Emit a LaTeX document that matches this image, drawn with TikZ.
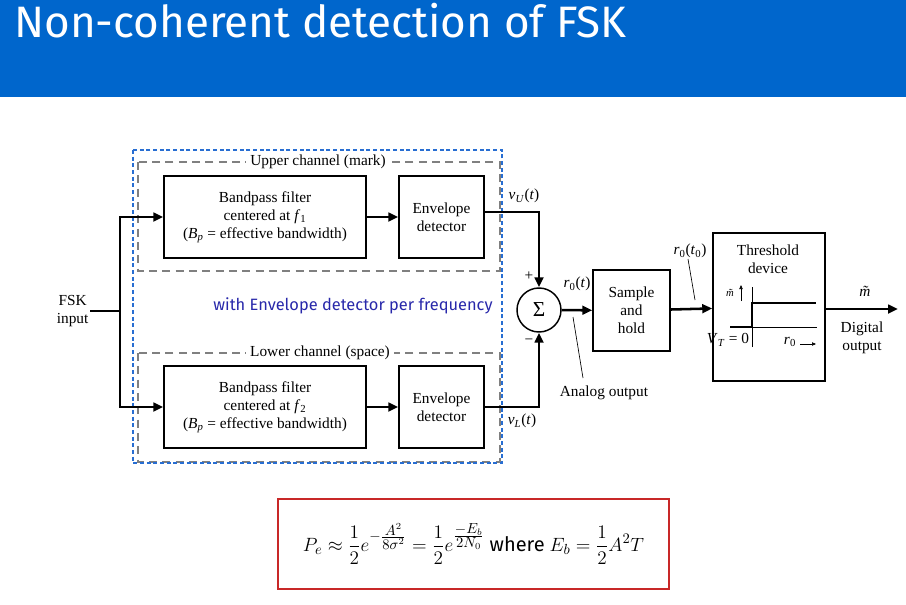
\documentclass[tikz,border=0pt]{standalone}
\usepackage{fontspec}
\setmainfont{Liberation Serif}
\newfontfamily\slidefont{Fira Sans}
\usetikzlibrary{arrows.meta,calc}
\definecolor{titleblue}{RGB}{0,102,204}
\definecolor{noteblue}{RGB}{40,40,170}
\definecolor{boxred}{RGB}{200,40,40}
\definecolor{dashblue}{RGB}{40,110,210}
\tikzset{
  sig/.style={line width=1.9pt},
  arr/.style={sig,-{Triangle[length=7.5pt,width=6.5pt]}},
  thin/.style={line width=0.5pt},
  blk/.style={draw, line width=1.1pt, align=center, inner sep=0pt,
    font=\fontsize{11.5}{13.5}\selectfont},
  lbl/.style={font=\fontsize{11.5}{13.5}\selectfont, align=center, inner sep=1pt},
  chanbox/.style={draw=gray, line width=0.9pt, dash pattern=on 6pt off 4pt},
  outerbox/.style={draw=dashblue, line width=0.9pt, dash pattern=on 3pt off 2pt},
}
\begin{document}
\begin{tikzpicture}[x=0.75pt,y=-0.75pt]
\useasboundingbox (0,0) rectangle (906,604);

% title band
\fill[titleblue] (0,0) rectangle (906,97);
\node[anchor=base west, text=white, inner sep=0pt,
  font=\slidefont\fontsize{33}{38}\selectfont] (title) at (14,37) {Non-coherent detection of FSK};

% channel frames
\draw[chanbox] (138,162) rectangle (500,271);
\draw[chanbox] (138,353) rectangle (500,462);
\node[lbl, fill=white, inner xsep=3pt] (upperlbl) at (318,162) {Upper channel (mark)};
\node[lbl, fill=white, inner xsep=3pt] (lowerlbl) at (320,353) {Lower channel (space)};
\draw[outerbox] (133,150) rectangle (502,463);

% blocks
\node[blk, minimum width=151.5pt, minimum height=61.5pt] (bpf1) at (265,217)
  {Bandpass filter\\centered at \textit{f}\textsubscript{1}\\(\textit{B}\textsubscript{\textit{p}} = effective bandwidth)};
\node[blk, minimum width=63.75pt, minimum height=61.5pt] (env1) at (441.5,217) {Envelope\\detector};
\node[blk, minimum width=151.5pt, minimum height=61.5pt] (bpf2) at (265,407)
  {Bandpass filter\\centered at \textit{f}\textsubscript{2}\\(\textit{B}\textsubscript{\textit{p}} = effective bandwidth)};
\node[blk, minimum width=63.75pt, minimum height=61.5pt] (env2) at (441.5,407) {Envelope\\detector};
\node[draw, circle, line width=1.1pt, minimum size=33pt, inner sep=0pt,
  font=\fontsize{16}{16}\selectfont] (sum) at (539,310) {Σ};
\node[blk, minimum width=57.75pt, minimum height=60.75pt] (sah) at (631.5,310.5) {Sample\\and\\hold};
\node[blk, minimum width=84pt, minimum height=111pt] (thr) at (769,307) {};
\node[lbl] (thrtxt) at (768,259) {Threshold\\device};

% input
\node[lbl, anchor=east] (in) at (90,311) {FSK\\input};
\coordinate (split) at (120,311);
\coordinate (out) at (898,309);
\draw[sig] (in.east) -- (split);
\draw[arr] (split) |- (bpf1.west);
\draw[arr] (split) |- (bpf2.west);
\draw[arr] (bpf1) -- (env1);
\draw[arr] (bpf2) -- (env2);
\draw[arr] ($(env1.east)+(0,-5)$) -| (sum.north);
\draw[arr] (env2.east) -| (sum.south);
\draw[arr] (sum) -- (sah);
\draw[arr] (sah) -- (thr);
\draw[arr] (thr.east |- out) -- (out);

% signal labels
\node[lbl] (vu) at (524,196) {\textit{v}\textsubscript{\textit{U}}(\textit{t})};
\node[lbl] (vl) at (522,421) {\textit{v}\textsubscript{\textit{L}}(\textit{t})};
\node[lbl] (plus) at (529,276) {+};
\node[lbl] (minus) at (529,342) {−};
\node[lbl] (r0t) at (577,284) {\textit{r}\textsubscript{0}(\textit{t})};
\node[lbl] (r0t0) at (690,251) {\textit{r}\textsubscript{0}(\textit{t}\textsubscript{0})};
\node[lbl] (mhat) at (868,291) {\textit{\~m}};
\node[lbl] (digout) at (862,338) {Digital\\output};
\node[lbl] (anaout) at (604,393) {Analog output};
\node[font=\slidefont\fontsize{12.3}{14}\selectfont, text=noteblue, inner sep=1pt] (with) at (353,306)
  {with Envelope detector per frequency};

% leader lines
\coordinate (ana1) at (573,317);
\coordinate (ana2) at (583,378);
\draw[thin] (ana1) -- (ana2);
\coordinate (smp1) at (688,259);
\coordinate (smp2) at (695,300);
\draw[thin] (smp1) -- (smp2);

% threshold characteristic
\coordinate (axl) at (730,327);
\coordinate (axr) at (817,327);
\coordinate (axb) at (752,347);
\coordinate (axt) at (752,287);
\coordinate (stepr) at (816,303);
\draw[thin] (axl) -- (axr);
\draw[thin] (axb) -- (axt);
\draw[line width=1.9pt] (axl) -- (752,327) -- (752,303) -- (stepr);
\node[font=\fontsize{8}{8}\selectfont\itshape, inner sep=0pt] (mt) at (730,293) {\~m};
\coordinate (ma1) at (741,301);
\coordinate (ma2) at (741,285);
\draw[thin, -{Triangle[length=3pt,width=2.5pt]}] (ma1) -- (ma2);
\node[lbl] (vt) at (728,340) {\textit{V}\textsubscript{\textit{T}} = 0};
\node[lbl] (r0) at (790,342) {\textit{r}\textsubscript{0}};
\coordinate (ra1) at (800,344);
\coordinate (ra2) at (816,344);
\draw[thin, -{Triangle[length=3pt,width=2.5pt]}] (ra1) -- (ra2);

% error probability
\node[draw=boxred, line width=1pt, minimum width=293.25pt, minimum height=67.5pt,
  font=\fontsize{15}{17}\selectfont] (pe) at (473.5,544)
  {$\displaystyle P_e \approx \frac{1}{2}e^{-\frac{\scriptstyle A^2}{\scriptstyle 8\sigma^2}}
   = \frac{1}{2}e^{\frac{\scriptstyle -E_b}{\scriptstyle 2N_0}}$ {\slidefont where}
   $\displaystyle E_b = \frac{1}{2}A^2T$};
\end{tikzpicture}
\end{document}
